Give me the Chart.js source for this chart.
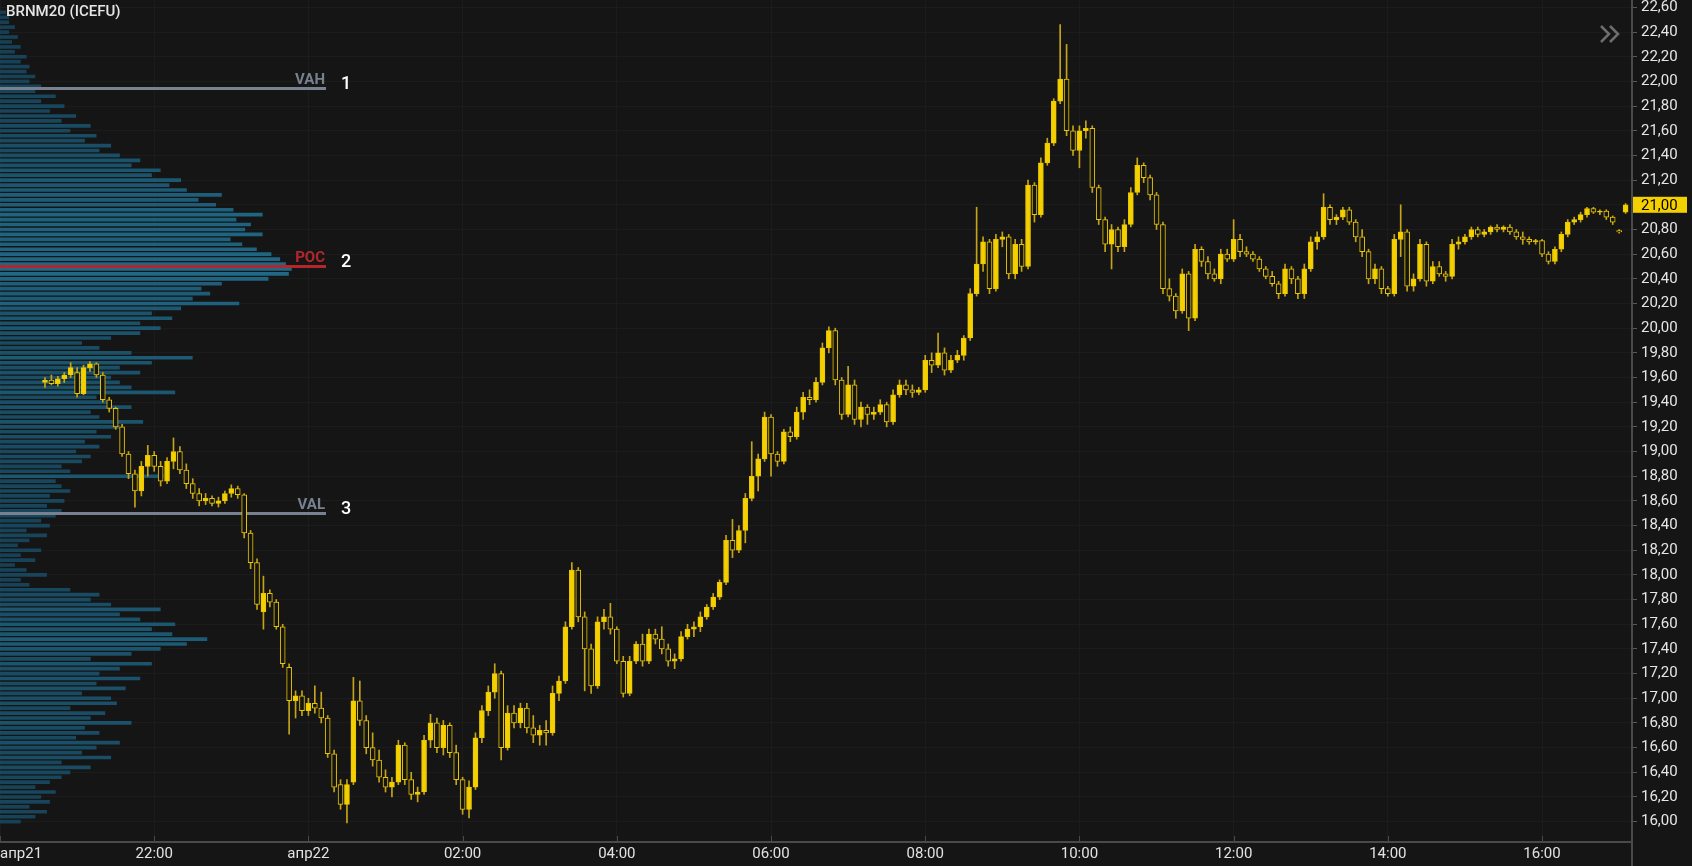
<!DOCTYPE html>
<html lang="ru">
<head>
	<meta charset="utf-8">
	<title>BRNM20 (ICEFU)</title>
	<script src="https://cdn.jsdelivr.net/npm/chart.js@4.4.1/dist/chart.umd.min.js"></script>
	<style>
		html, body { margin: 0; padding: 0; background: #151515; overflow: hidden; }
		#wrap { position: relative; width: 1692px; height: 866px; }
	</style>
</head>
<body>
<div id="wrap"><canvas id="chart"></canvas></div>
<script>
// 5-minute candles, minutes counted from 20:00 (апр21)
const candleStart = 35;
const candleStep = 5;

const opens = [
	19.56,19.58,19.55,19.59,19.62,19.64,19.47,19.68,19.71,19.62,
	19.42,19.35,19.20,18.98,18.82,18.68,18.88,18.97,18.88,18.76,
	18.92,19.00,18.85,18.74,18.66,18.60,18.62,18.58,18.60,18.66,
	18.70,18.65,18.34,18.10,17.70,17.85,17.78,17.58,17.25,16.98,
	17.02,16.90,16.96,16.92,16.84,16.55,16.30,16.14,16.32,16.98,
	16.82,16.60,16.50,16.36,16.28,16.32,16.62,16.34,16.22,16.24,
	16.66,16.80,16.60,16.78,16.56,16.34,16.10,16.28,16.68,16.90,
	17.05,17.20,16.60,16.88,16.80,16.92,16.76,16.70,16.74,16.72,
	17.04,17.14,17.58,18.04,17.66,17.40,17.10,17.62,17.66,17.56,
	17.30,17.04,17.30,17.44,17.30,17.52,17.48,17.40,17.30,17.32,
	17.50,17.56,17.58,17.66,17.74,17.82,17.94,18.28,18.20,18.36,
	18.62,18.80,18.94,19.28,18.98,18.92,19.16,19.12,19.32,19.44,
	19.42,19.56,19.84,19.98,19.58,19.30,19.54,19.26,19.36,19.30,
	19.32,19.38,19.24,19.46,19.54,19.50,19.48,19.50,19.74,19.70,
	19.80,19.66,19.74,19.78,19.92,20.28,20.52,20.70,20.32,20.72,
	20.74,20.44,20.68,20.50,21.16,20.92,21.34,21.50,21.84,22.02,
	21.60,21.44,21.60,21.62,21.14,20.88,20.68,20.80,20.66,20.84,
	21.10,21.32,21.22,21.08,20.84,20.32,20.26,20.14,20.44,20.08,
	20.64,20.54,20.44,20.40,20.60,20.56,20.72,20.62,20.60,20.56,
	20.48,20.42,20.36,20.28,20.48,20.40,20.28,20.48,20.70,20.74,
	20.98,20.88,20.90,20.96,20.86,20.74,20.62,20.40,20.48,20.32,
	20.28,20.72,20.78,20.34,20.40,20.68,20.38,20.50,20.44,20.42,
	20.68,20.70,20.74,20.80,20.76,20.78,20.82,20.80,20.82,20.78,
	20.74,20.72,20.70,20.71,20.60,20.54,20.64,20.76,20.86,20.88,
	20.92,20.97,20.94,20.95,20.90,20.79,20.94
];
const highs = [
	19.60,19.62,19.61,19.64,19.72,19.68,19.70,19.73,19.72,19.64,
	19.44,19.36,19.22,19.00,18.85,18.92,19.05,19.00,18.92,18.95,
	19.11,19.04,18.90,18.78,18.70,18.66,18.64,18.63,18.68,18.73,
	18.72,18.66,18.36,18.13,17.99,17.88,17.80,17.60,17.28,17.06,
	17.06,17.00,17.10,17.05,16.86,16.58,16.34,16.34,17.17,17.14,
	16.86,16.72,16.58,16.42,16.36,16.66,16.64,16.40,16.28,16.70,
	16.87,16.84,16.82,16.80,16.62,16.36,16.33,16.72,16.94,17.10,
	17.28,17.22,16.94,16.94,16.96,16.96,16.86,16.78,16.82,17.10,
	17.18,17.62,18.10,18.06,17.70,17.44,17.66,17.72,17.77,17.58,
	17.34,17.34,17.46,17.52,17.56,17.56,17.58,17.44,17.36,17.54,
	17.60,17.62,17.70,17.76,17.85,17.96,18.32,18.45,18.40,18.66,
	19.08,18.98,19.32,19.30,19.00,19.18,19.20,19.36,19.48,19.50,
	19.60,19.88,20.01,20.00,19.60,19.69,19.58,19.40,19.38,19.36,
	19.42,19.40,19.50,19.58,19.58,19.54,19.52,19.78,19.80,19.96,
	19.84,19.78,19.82,19.94,20.32,20.98,20.74,20.72,20.76,20.78,
	20.76,20.72,20.72,21.20,21.18,21.38,21.54,21.86,22.46,22.30,
	21.64,21.64,21.68,21.64,21.16,20.90,20.84,20.82,20.88,21.14,
	21.38,21.34,21.24,21.10,20.86,20.40,20.28,20.48,20.46,20.68,
	20.66,20.58,20.48,20.64,20.64,20.88,20.76,20.66,20.62,20.58,
	20.50,20.46,20.38,20.52,20.50,20.42,20.52,20.74,20.78,21.09,
	21.00,20.92,20.98,20.98,20.88,20.80,20.64,20.52,20.50,20.34,
	20.76,21.00,20.80,20.44,20.72,20.70,20.54,20.54,20.46,20.72,
	20.74,20.76,20.82,20.82,20.80,20.83,20.84,20.83,20.84,20.80,
	20.78,20.74,20.72,20.72,20.62,20.66,20.78,20.88,20.90,20.94,
	20.98,20.98,20.96,20.96,20.91,20.80,21.01
];
const lows = [
	19.52,19.54,19.53,19.56,19.60,19.44,19.46,19.65,19.60,19.40,
	19.32,19.18,18.96,18.78,18.55,18.64,18.80,18.84,18.72,18.74,
	18.86,18.82,18.70,18.62,18.56,18.57,18.56,18.55,18.58,18.63,
	18.62,18.30,18.05,17.72,17.56,17.74,17.56,17.25,16.71,16.84,
	16.86,16.86,16.88,16.80,16.52,16.24,16.10,15.99,16.30,16.78,
	16.55,16.45,16.32,16.24,16.20,16.30,16.30,16.18,16.16,16.22,
	16.60,16.56,16.54,16.52,16.30,16.06,16.03,16.26,16.64,16.86,
	17.00,16.50,16.58,16.76,16.76,16.72,16.64,16.62,16.62,16.70,
	16.98,17.12,17.56,17.62,17.06,17.04,17.08,17.56,17.52,17.28,
	17.01,17.02,17.28,17.26,17.28,17.44,17.36,17.26,17.24,17.30,
	17.48,17.50,17.54,17.64,17.72,17.80,17.92,18.14,18.18,18.26,
	18.60,18.68,18.92,18.80,18.88,18.90,19.08,19.10,19.26,19.38,
	19.40,19.54,19.80,19.54,19.26,19.28,19.22,19.20,19.22,19.26,
	19.30,19.20,19.22,19.44,19.46,19.44,19.46,19.48,19.64,19.68,
	19.62,19.64,19.72,19.74,19.90,20.26,20.46,20.28,20.30,20.66,
	20.40,20.40,20.46,20.48,20.86,20.90,21.32,21.48,21.82,21.56,
	21.40,21.30,21.54,21.10,20.84,20.62,20.48,20.62,20.62,20.82,
	21.08,21.18,21.04,20.80,20.28,20.22,20.08,20.12,19.98,20.06,
	20.50,20.40,20.38,20.36,20.54,20.54,20.58,20.58,20.54,20.46,
	20.40,20.34,20.24,20.26,20.36,20.24,20.24,20.46,20.64,20.72,
	20.84,20.84,20.88,20.84,20.70,20.58,20.36,20.36,20.28,20.26,
	20.26,20.58,20.30,20.30,20.38,20.34,20.36,20.42,20.38,20.40,
	20.64,20.68,20.72,20.74,20.74,20.76,20.78,20.78,20.76,20.72,
	20.68,20.68,20.68,20.58,20.52,20.52,20.62,20.74,20.84,20.86,
	20.90,20.93,20.92,20.88,20.84,20.77,20.93
];
const closes = [
	19.58,19.55,19.59,19.62,19.68,19.47,19.68,19.71,19.62,19.42,
	19.35,19.20,18.98,18.82,18.68,18.88,18.97,18.88,18.76,18.92,
	19.00,18.85,18.74,18.66,18.60,18.62,18.58,18.60,18.66,18.70,
	18.65,18.34,18.10,17.76,17.85,17.78,17.58,17.28,16.98,17.02,
	16.90,16.96,16.92,16.84,16.55,16.28,16.14,16.30,16.98,16.82,
	16.60,16.50,16.36,16.28,16.32,16.62,16.34,16.22,16.24,16.66,
	16.80,16.60,16.78,16.56,16.34,16.10,16.28,16.68,16.90,17.05,
	17.20,16.60,16.88,16.80,16.92,16.76,16.70,16.74,16.72,17.04,
	17.14,17.58,18.04,17.66,17.40,17.10,17.62,17.66,17.56,17.30,
	17.04,17.30,17.44,17.30,17.52,17.48,17.40,17.30,17.32,17.50,
	17.56,17.58,17.66,17.74,17.82,17.94,18.28,18.20,18.36,18.62,
	18.80,18.94,19.28,18.98,18.92,19.16,19.12,19.32,19.44,19.42,
	19.56,19.84,19.98,19.58,19.30,19.54,19.26,19.36,19.30,19.32,
	19.38,19.24,19.46,19.54,19.50,19.48,19.50,19.74,19.70,19.80,
	19.66,19.74,19.78,19.92,20.28,20.52,20.70,20.32,20.72,20.74,
	20.44,20.68,20.50,21.16,20.92,21.34,21.50,21.84,22.02,21.60,
	21.44,21.60,21.62,21.14,20.88,20.68,20.80,20.66,20.84,21.10,
	21.32,21.22,21.08,20.84,20.32,20.26,20.14,20.44,20.08,20.64,
	20.54,20.44,20.40,20.60,20.56,20.72,20.62,20.60,20.56,20.48,
	20.42,20.36,20.28,20.48,20.40,20.28,20.48,20.70,20.74,20.98,
	20.88,20.90,20.96,20.86,20.74,20.62,20.40,20.48,20.32,20.28,
	20.72,20.78,20.34,20.40,20.68,20.38,20.50,20.44,20.42,20.68,
	20.70,20.74,20.80,20.76,20.78,20.82,20.80,20.82,20.78,20.74,
	20.72,20.70,20.71,20.60,20.54,20.64,20.76,20.86,20.88,20.92,
	20.97,20.94,20.95,20.90,20.86,20.78,21.00
];

// volume profile, levels from 16.00 upward every 0.04
const profileBottom = 16.00;
const profileStep = 0.04;
const profileVolumes = [
	7,12,16,10,17,14,19,12,17,21,
	24,31,21,38,28,33,41,26,34,29,45,31,36,24,40,
	38,28,43,33,48,34,41,52,31,45,
	55,64,71,59,52,60,48,41,55,38,31,34,24,
	10,7,16,9,5,12,7,14,6,10,16,9,17,14,
	19,21,16,22,17,24,21,19,
	56,
	24,21,28,31,26,34,29,38,33,41,49,34,31,45,38,33,60,45,41,
	38,48,41,52,66,45,34,28,38,48,55,48,59,52,62,82,66,72,69,
	76,92,99,100,98,96,93,88,83,79,90,84,86,81,
	90,80,74,68,76,64,58,62,52,55,45,48,
	41,34,38,29,33,24,31,21,26,17,22,14,19,12,
	14,10,12,9,10,7,9,5,7,4,6,3,5,3,3,2
];

const levelNames = ['VAH', 'POC', 'VAL'];
const levelValues = [21.95, 20.50, 18.50];
const levelMarks = ['1', '2', '3'];
const levelColors = ['#77818f', '#b3262c', '#77818f'];

const xTickValues = [0, 120, 240, 360, 480, 600, 720, 840, 960, 1080, 1200];
const xTickLabels = ['апр21', '22:00', 'апр22', '02:00', '04:00', '06:00', '08:00', '10:00', '12:00', '14:00', '16:00'];
const yTickValues = [16.0,16.2,16.4,16.6,16.8,17.0,17.2,17.4,17.6,17.8,18.0,18.2,18.4,18.6,18.8,19.0,19.2,19.4,19.6,19.8,20.0,20.2,20.4,20.6,20.8,21.0,21.2,21.4,21.6,21.8,22.0,22.2,22.4,22.6];
const lastPrice = 21.00;
const xMax = 1270;

const BG = '#151515';
const GOLD = '#f5d000';
const fmt = v => v.toFixed(2).replace('.', ',');

const candleTimes = opens.map((_, i) => candleStart + i * candleStep);
const wickData = candleTimes.map((t, i) => ({x: t, y: [lows[i], highs[i]]}));
const bodyData = candleTimes.map((t, i) => ({x: t, y: [opens[i], closes[i]]}));
const profileData = profileVolumes.map((v, i) => ({x: v, y: +(profileBottom + i * profileStep).toFixed(2)}));

// heavier price levels get a slightly brighter teal
function profileColor(c) {
	const k = profileVolumes[c.dataIndex] / 100;
	const r = Math.round(22 + 10 * k), g = Math.round(62 + 42 * k), b = Math.round(82 + 52 * k);
	return `rgb(${r},${g},${b})`;
}

const overlay = {
	id: 'overlay',
	afterDatasetDraw(chart, args) {
		if (args.index !== 0) return;
		const {ctx, scales: {y}} = chart;
		ctx.save();
		levelValues.forEach((v, i) => {
			const py = Math.round(y.getPixelForValue(v)) + 0.5;
			ctx.strokeStyle = levelColors[i];
			ctx.lineWidth = 3;
			ctx.beginPath();
			ctx.moveTo(0, py);
			ctx.lineTo(326, py);
			ctx.stroke();
		});
		ctx.restore();
	},
	afterDraw(chart) {
		const {ctx, chartArea: a, scales: {x, y}} = chart;
		ctx.save();
		// level captions
		levelValues.forEach((v, i) => {
			const py = y.getPixelForValue(v);
			ctx.fillStyle = levelColors[i];
			ctx.font = 'bold 15px Roboto';
			ctx.textAlign = 'right';
			ctx.textBaseline = 'alphabetic';
			ctx.fillText(levelNames[i], 325, py - 4);
			ctx.fillStyle = '#ffffff';
			ctx.font = '500 18px Roboto';
			ctx.textAlign = 'left';
			ctx.fillText(levelMarks[i], 341, py + 1);
		});
		// short tick marks above the time axis
		ctx.strokeStyle = '#4a4a4a';
		ctx.lineWidth = 1;
		xTickValues.forEach(v => {
			const px = Math.round(x.getPixelForValue(v)) + 0.5;
			ctx.beginPath();
			ctx.moveTo(px, a.bottom - 6);
			ctx.lineTo(px, a.bottom);
			ctx.stroke();
		});
		// price axis line down to the bottom edge
		ctx.lineWidth = 2;
		ctx.beginPath();
		ctx.moveTo(a.right, a.bottom);
		ctx.lineTo(a.right, chart.height);
		ctx.stroke();
		// last price tag
		const py = y.getPixelForValue(lastPrice);
		ctx.fillStyle = GOLD;
		ctx.fillRect(a.right + 1, py - 8, 54, 16);
		ctx.fillStyle = '#000';
		ctx.font = '15px Roboto';
		ctx.textAlign = 'left';
		ctx.textBaseline = 'middle';
		ctx.fillText(fmt(lastPrice), a.right + 9, py + 1);
		// title
		ctx.fillStyle = '#e6e6e6';
		ctx.font = '500 15px Roboto';
		ctx.fillText('BRNM20 (ICEFU)', 6, 12);
		// chevrons
		ctx.strokeStyle = '#6e6e6e';
		ctx.lineWidth = 2.5;
		[1601, 1610].forEach(cx => {
			ctx.beginPath();
			ctx.moveTo(cx, 26);
			ctx.lineTo(cx + 8, 34);
			ctx.lineTo(cx, 42);
			ctx.stroke();
		});
		ctx.restore();
	}
};

new Chart(document.getElementById('chart'), {
	data: {
		datasets: [{
			type: 'bar',
			label: 'profile',
			indexAxis: 'y',
			xAxisID: 'xp',
			yAxisID: 'y',
			data: profileData,
			backgroundColor: profileColor,
			barThickness: 3,
			grouped: false,
			order: 3
		}, {
			type: 'bar',
			label: 'wicks',
			xAxisID: 'x',
			yAxisID: 'y',
			data: wickData,
			backgroundColor: '#c4a41a',
			barThickness: 1,
			grouped: false,
			order: 2
		}, {
			type: 'bar',
			label: 'bodies',
			xAxisID: 'x',
			yAxisID: 'y',
			data: bodyData,
			backgroundColor: c => closes[c.dataIndex] >= opens[c.dataIndex] ? GOLD : BG,
			borderColor: '#eac600',
			borderWidth: 1,
			borderSkipped: false,
			barThickness: 5,
			minBarLength: 1,
			grouped: false,
			order: 1
		}]
	},
	options: {
		responsive: true,
		maintainAspectRatio: false,
		devicePixelRatio: 1,
		animation: false,
		events: [],
		layout: { padding: 0, autoPadding: false },
		plugins: { legend: { display: false }, tooltip: { enabled: false } },
		scales: {
			x: {
				type: 'linear', min: 0, max: xMax, offset: false,
				grid: { offset: false, drawTicks: false, color: c => c.tick && c.tick.value === xMax ? 'rgba(0,0,0,0)' : '#1c1c1c' },
				border: { color: '#4a4a4a', width: 2 },
				afterBuildTicks: axis => { axis.ticks = xTickValues.concat([xMax]).map(v => ({value: v})); },
				afterFit: axis => { axis.height = 24; axis.paddingLeft = 0; axis.paddingRight = 0; },
				ticks: {
					autoSkip: false, maxRotation: 0, align: 'inner', padding: 3,
					color: '#e2e2e2', font: { family: 'Roboto', size: 15 },
					callback: v => { const k = xTickValues.indexOf(v); return k < 0 ? '' : xTickLabels[k]; }
				}
			},
			y: {
				type: 'linear', position: 'right', min: 15.835, max: 22.66, offset: false,
				grid: { offset: false, color: '#1c1c1c', tickColor: '#5a5a5a', tickLength: 5 },
				border: { color: '#4a4a4a', width: 2 },
				afterBuildTicks: axis => { axis.ticks = yTickValues.map(v => ({value: v})); },
				afterFit: axis => { axis.width = 60; axis.paddingTop = 0; axis.paddingBottom = 0; },
				ticks: {
					autoSkip: false, padding: 4,
					color: '#e6e6e6', font: { family: 'Roboto', size: 15 },
					callback: v => fmt(v)
				}
			},
			xp: { type: 'linear', display: false, min: 0, max: 560 }
		}
	},
	plugins: [overlay]
});
</script>
</body>
</html>
